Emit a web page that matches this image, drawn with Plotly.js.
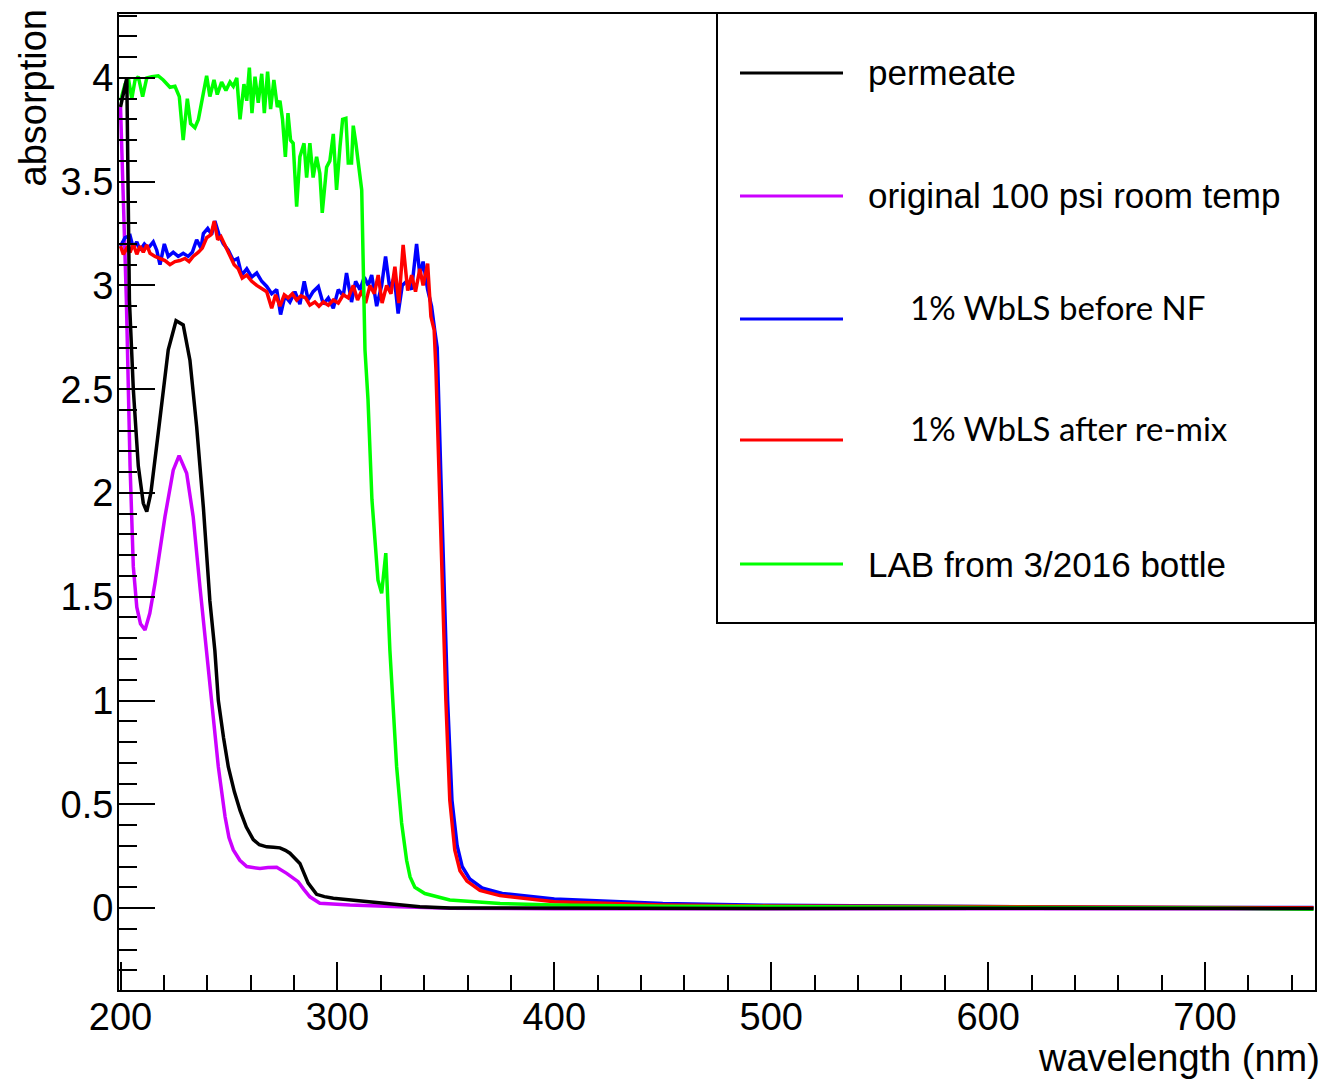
<!DOCTYPE html>
<html><head><meta charset="utf-8">
<script src="https://cdn.plot.ly/plotly-3.0.1.min.js"></script>
<style>html,body{margin:0;padding:0;background:#fff;} #chart{width:1330px;height:1080px;}</style>
</head><body><div id="chart"></div>
<script>
// ---------------- data ----------------
const permeate_nm = [200, 201.5, 202.9, 204.1, 205.9, 208.2, 210.5, 212.1, 214.0, 217.4, 222.0, 225.6, 228.9, 232.0, 235.1, 238.2, 241.2, 243.5, 245.1, 247.5, 249.7, 252.5, 255.1, 258.0, 261.2, 264.0, 267.4, 270.5, 273.5, 276.0, 278.1, 282.7, 286.5, 290.4, 294.0, 298.1, 316.5, 338.0, 352.0, 400, 500, 600, 750];
const permeate_abs = [3.86, 3.93, 4.0, 2.93, 2.5, 2.13, 1.95, 1.91, 2.0, 2.29, 2.69, 2.83, 2.81, 2.64, 2.32, 1.93, 1.48, 1.24, 1.0, 0.82, 0.68, 0.56, 0.47, 0.39, 0.33, 0.305, 0.295, 0.293, 0.29, 0.278, 0.264, 0.215, 0.12, 0.066, 0.055, 0.047, 0.03, 0.006, 0.0, -0.002, -0.002, -0.001, -0.002];

const original_nm = [200, 201.3, 202.7, 204.4, 205.9, 207.5, 209.2, 211.3, 213.5, 215.9, 220.5, 224.3, 227.0, 230.5, 233.5, 236.6, 239.7, 242.0, 245.1, 248.2, 250.0, 252.0, 255.0, 258.2, 264.3, 268.0, 272.0, 276.6, 281.9, 284.5, 287.3, 291.9, 305.8, 328.8, 351.8, 400, 500, 600, 750];
const original_abs = [3.86, 3.4, 2.93, 2.13, 1.645, 1.45, 1.37, 1.34, 1.42, 1.566, 1.886, 2.11, 2.18, 2.095, 1.886, 1.55, 1.24, 1.0, 0.68, 0.44, 0.34, 0.28, 0.23, 0.2, 0.19, 0.195, 0.196, 0.167, 0.127, 0.09, 0.054, 0.023, 0.014, 0.006, -0.001, -0.003, -0.003, -0.002, -0.003];

const beforeNF_nm = [200, 202.1, 204.4, 205.9, 207.5, 209.0, 211.0, 212.8, 215.1, 216.7, 218.2, 220.2, 222.0, 224.3, 226.6, 228.9, 231.2, 233.1, 235.1, 237.1, 238.2, 240.2, 242.0, 243.5, 245.4, 247.4, 249.7, 252.0, 254.0, 255.9, 258.2, 260.5, 262.8, 265.1, 267.4, 269.7, 272.0, 273.8, 275.8, 278.1, 280.4, 282.7, 284.7, 286.5, 288.8, 291.2, 293.5, 295.8, 298.1, 300.4, 302.7, 304.2, 306.5, 308.4, 310.4, 312.4, 314.2, 315.8, 318.1, 320.4, 322.2, 324.2, 326.2, 328.0, 329.9, 331.9, 334.2, 336.5, 338.0, 339.5, 341.6, 343.4, 344.9, 346.0, 348.0, 350.8, 352.8, 355.2, 357.5, 361.0, 367.0, 376.0, 400, 450, 500, 550, 600, 650, 700, 750];
const beforeNF_abs = [3.19, 3.23, 3.24, 3.18, 3.21, 3.17, 3.20, 3.18, 3.21, 3.17, 3.10, 3.20, 3.14, 3.16, 3.14, 3.155, 3.14, 3.16, 3.22, 3.18, 3.25, 3.275, 3.245, 3.31, 3.245, 3.20, 3.17, 3.12, 3.13, 3.05, 3.08, 3.04, 3.06, 3.02, 2.995, 2.96, 2.98, 2.86, 2.95, 2.92, 2.97, 2.91, 3.02, 2.93, 2.97, 2.995, 2.91, 2.94, 2.89, 2.98, 2.95, 3.06, 2.92, 3.02, 2.98, 3.04, 3.00, 3.05, 2.90, 3.00, 3.14, 2.98, 3.04, 2.865, 3.00, 3.02, 2.98, 3.20, 3.05, 3.115, 2.98, 2.90, 2.78, 2.7, 1.97, 1.0, 0.52, 0.30, 0.20, 0.14, 0.095, 0.07, 0.043, 0.022, 0.013, 0.009, 0.006, 0.004, 0.003, 0.002];

const remix_nm = [200, 201.3, 202.9, 204.4, 205.9, 207.5, 209.0, 210.5, 212.1, 213.6, 215.9, 218.2, 220.5, 222.8, 225.1, 227.4, 229.7, 231.6, 233.5, 235.9, 237.7, 239.7, 241.7, 243.2, 244.8, 246.3, 248.2, 250.5, 252.4, 254.3, 256.1, 258.2, 260.5, 262.8, 265.1, 267.4, 269.7, 271.5, 273.5, 275.5, 277.3, 279.2, 281.2, 283.2, 285.3, 287.3, 289.6, 291.5, 293.5, 295.8, 298.1, 300.4, 302.7, 305.0, 307.3, 309.3, 311.2, 313.0, 315.0, 317.0, 318.8, 320.6, 322.7, 324.7, 326.5, 328.3, 330.3, 332.4, 334.2, 336.0, 338.0, 339.5, 341.6, 343.1, 344.6, 345.4, 347.2, 350.0, 351.8, 354.1, 356.5, 359.7, 365.7, 374.9, 400, 450, 500, 600, 700, 750];
const remix_abs = [3.19, 3.15, 3.18, 3.16, 3.20, 3.15, 3.19, 3.16, 3.195, 3.155, 3.14, 3.13, 3.12, 3.10, 3.115, 3.12, 3.13, 3.115, 3.14, 3.16, 3.18, 3.23, 3.245, 3.31, 3.22, 3.235, 3.19, 3.14, 3.10, 3.08, 3.035, 3.05, 3.02, 3.00, 2.985, 2.97, 2.89, 2.955, 2.90, 2.955, 2.94, 2.96, 2.93, 2.95, 2.94, 2.905, 2.92, 2.90, 2.92, 2.905, 2.93, 2.915, 2.955, 2.94, 3.00, 2.93, 2.975, 2.915, 3.00, 2.96, 3.05, 2.915, 3.00, 2.96, 3.09, 2.915, 3.195, 2.975, 3.05, 2.97, 3.08, 3.00, 3.105, 2.85, 2.785, 2.6, 1.97, 1.0, 0.52, 0.28, 0.18, 0.13, 0.085, 0.06, 0.03, 0.015, 0.01, 0.005, 0.002, 0.001];

const lab_nm = [200, 202.1, 203.6, 205.2, 206.7, 208.2, 210.2, 212.1, 214.4, 217.4, 219.7, 222.8, 225.1, 227.1, 228.9, 230.8, 232.3, 234.3, 235.9, 237.4, 239.7, 241.2, 243.1, 244.6, 246.6, 248.6, 250.5, 252.0, 253.6, 255.1, 256.9, 258.2, 259.4, 260.6, 262.0, 263.5, 265.1, 266.3, 267.8, 269.2, 270.7, 272.3, 273.5, 274.7, 276.0, 277.2, 278.4, 279.6, 281.2, 282.7, 284.6, 285.8, 287.3, 288.8, 290.4, 291.9, 293.0, 295.0, 296.5, 298.1, 299.6, 301.2, 302.4, 303.9, 305.0, 306.5, 307.3, 308.5, 309.6, 311.2, 312.7, 314.1, 315.9, 318.7, 320.4, 322.3, 324.2, 325.7, 327.3, 329.6, 331.9, 333.5, 335.7, 340.3, 351.8, 375, 400, 450, 500, 600, 700, 750];
const lab_abs = [3.89, 3.97, 4.0, 3.90, 3.99, 4.006, 3.91, 4.0, 4.006, 4.01, 3.99, 3.955, 3.96, 3.91, 3.70, 3.90, 3.78, 3.76, 3.80, 3.89, 4.01, 3.91, 3.99, 3.92, 3.98, 3.94, 3.98, 3.96, 4.0, 3.80, 3.97, 3.89, 4.05, 3.83, 4.006, 3.88, 4.02, 3.83, 4.03, 3.85, 3.99, 3.86, 3.89, 3.80, 3.62, 3.83, 3.70, 3.685, 3.38, 3.62, 3.685, 3.52, 3.685, 3.52, 3.62, 3.54, 3.35, 3.57, 3.60, 3.73, 3.46, 3.67, 3.80, 3.805, 3.59, 3.59, 3.77, 3.685, 3.59, 3.46, 2.69, 2.45, 1.97, 1.58, 1.517, 1.71, 1.24, 1.0, 0.68, 0.41, 0.23, 0.15, 0.10, 0.07, 0.039, 0.022, 0.015, 0.009, 0.006, 0.003, 0.0, -0.006];

const seriesNames = ["permeate", "original 100 psi room temp", "1% WbLS before NF", "1% WbLS after re-mix", "LAB from 3/2016 bottle"];
const xTickVals = [200, 300, 400, 500, 600, 700];
const xTickText = ["200", "300", "400", "500", "600", "700"];
const yTickVals = [0, 0.5, 1, 1.5, 2, 2.5, 3, 3.5, 4];
const yTickText = ["0", "0.5", "1", "1.5", "2", "2.5", "3", "3.5", "4"];
const xTitle = "wavelength (nm)";
const yTitle = "absorption";

// ---------------- styles ----------------
const seriesColors = ["#000000", "#cc00ff", "#0000ff", "#ff0000", "#00ff00"];
const seriesX = [permeate_nm, original_nm, beforeNF_nm, remix_nm, lab_nm];
const seriesY = [permeate_abs, original_abs, beforeNF_abs, remix_abs, lab_abs];
const drawOrder = [1, 2, 3, 4, 0];   // magenta, blue, red, green, black on top

const W = 1330, H = 1080;
const M = {l: 119, r: 15, t: 14, b: 90};
const PW = W - M.l - M.r, PH = H - M.t - M.b;
const px2x = px => (px - M.l) / PW;
const py2y = py => (H - M.b - py) / PH;

const traces = drawOrder.map(i => ({
  type: 'scatter', mode: 'lines',
  x: seriesX[i], y: seriesY[i], name: seriesNames[i],
  line: {color: seriesColors[i], width: 3.5},
  showlegend: false, hoverinfo: 'skip'
}));

// legend drawn in ROOT TLegend style
const legRowPy = [73, 196, 319, 440, 564];
const legTextPx = [866, 866, 908, 908, 866];
const legTextPy = [72, 195, 307, 428, 564];
const legFont = [
  {family: 'Liberation Sans, Arial, sans-serif', size: 35},
  {family: 'Liberation Sans, Arial, sans-serif', size: 35},
  {family: 'Lato, sans-serif', size: 33},
  {family: 'Lato, sans-serif', size: 33},
  {family: 'Liberation Sans, Arial, sans-serif', size: 35}
];

const shapes = [{
  type: 'rect', xref: 'paper', yref: 'paper',
  x0: px2x(717), x1: px2x(1315), y0: py2y(623), y1: py2y(13),
  fillcolor: '#ffffff', line: {color: '#000000', width: 2}, layer: 'above'
}];
const annotations = [];
seriesNames.forEach((nm, i) => {
  shapes.push({
    type: 'line', xref: 'paper', yref: 'paper',
    x0: px2x(740), x1: px2x(843), y0: py2y(legRowPy[i]), y1: py2y(legRowPy[i]),
    line: {color: seriesColors[i], width: 3}, layer: 'above'
  });
  annotations.push({
    xref: 'paper', yref: 'paper', x: px2x(legTextPx[i]), y: py2y(legTextPy[i]),
    xanchor: 'left', yanchor: 'middle', showarrow: false,
    text: nm, font: Object.assign({color: '#000000'}, legFont[i])
  });
});
annotations.push({
  xref: 'paper', yref: 'paper', x: px2x(1322), y: py2y(1058),
  xanchor: 'right', yanchor: 'middle', showarrow: false, text: xTitle,
  font: {family: 'Liberation Sans, Arial, sans-serif', size: 38, color: '#000'}
});
annotations.push({
  xref: 'paper', yref: 'paper', x: px2x(32), y: py2y(8),
  xanchor: 'center', yanchor: 'top', textangle: -90, showarrow: false, text: yTitle,
  font: {family: 'Liberation Sans, Arial, sans-serif', size: 38, color: '#000'}
});

const axisFont = {family: 'Liberation Sans, Arial, sans-serif', size: 38, color: '#000'};
const layout = {
  width: W, height: H,
  margin: M,
  paper_bgcolor: '#ffffff', plot_bgcolor: '#ffffff',
  showlegend: false,
  xaxis: {
    range: [199.3, 750.7], showgrid: false, zeroline: false,
    showline: true, linecolor: '#000', linewidth: 2, mirror: true,
    tickmode: 'array', tickvals: xTickVals, ticktext: xTickText,
    ticks: 'inside', ticklen: 28, tickwidth: 2, tickcolor: '#000',
    tickfont: axisFont, ticklabelstandoff: -8,
    minor: {tickmode: 'linear', tick0: 200, dtick: 20, ticks: 'inside', ticklen: 15, tickwidth: 2, tickcolor: '#000', showgrid: false}
  },
  yaxis: {
    range: [-0.395, 4.308], showgrid: false, zeroline: false,
    showline: true, linecolor: '#000', linewidth: 2, mirror: true,
    tickmode: 'array', tickvals: yTickVals, ticktext: yTickText,
    ticks: 'inside', ticklen: 36, tickwidth: 2, tickcolor: '#000',
    tickfont: axisFont, ticklabelstandoff: -4,
    minor: {tickmode: 'linear', tick0: 0, dtick: 0.1, ticks: 'inside', ticklen: 18, tickwidth: 2, tickcolor: '#000', showgrid: false}
  },
  shapes: shapes,
  annotations: annotations
};

Plotly.newPlot('chart', traces, layout, {displayModeBar: false, staticPlot: true});
</script></body></html>
